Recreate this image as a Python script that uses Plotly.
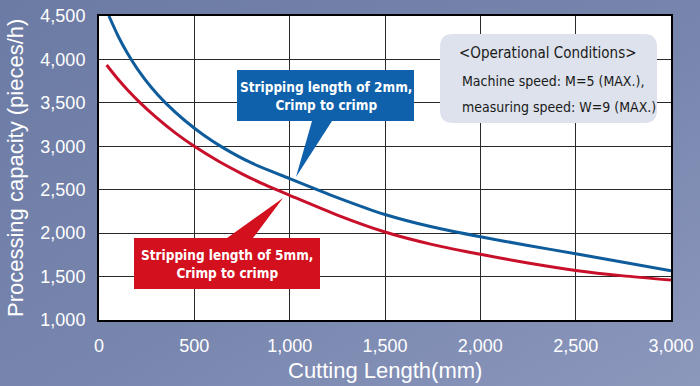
import plotly.graph_objects as go

# ---------------- data ----------------
blue_x = [52, 100, 150, 200, 275, 350, 450, 550, 650, 800, 1000, 1250, 1500, 1750, 2000, 2250, 2500, 2750, 3000]
blue_y = [4500, 4270, 4067, 3895, 3677, 3497, 3297, 3127, 2985, 2808, 2628, 2410, 2215, 2070, 1958, 1858, 1763, 1666, 1566]

red_x = [40, 100, 150, 215, 300, 400, 500, 625, 750, 875, 1000, 1250, 1500, 1750, 2000, 2250, 2500, 2750, 3000]
red_y = [3936, 3771, 3648, 3502, 3332, 3154, 2999, 2830, 2683, 2552, 2436, 2208, 2013, 1868, 1756, 1656, 1571, 1508, 1460]

x_ticks = [0, 500, 1000, 1500, 2000, 2500, 3000]
x_labels = ["0", "500", "1,000", "1,500", "2,000", "2,500", "3,000"]
y_ticks = [1000, 1500, 2000, 2500, 3000, 3500, 4000, 4500]
y_labels = ["1,000", "1,500", "2,000", "2,500", "3,000", "3,500", "4,000", "4,500"]

blue_label = "Stripping length of 2mm,<br>Crimp to crimp"
red_label = "Stripping length of 5mm,<br>Crimp to crimp"
cond_title = "&lt;Operational Conditions&gt;"
cond_lines = ["Machine speed: M=5 (MAX.),", "measuring speed: W=9 (MAX.)"]

x_title = "Cutting Length(mm)"
y_title = "Processing capacity (pieces/h)"

# ---------------- layout helpers (pixel -> paper) ----------------
W, H = 700, 386
PL, PR, PT, PB = 99, 671, 16, 320


def fx(x):
    return (x - PL) / (PR - PL)


def fy(y):
    return (PB - y) / (PB - PT)


def path(points):
    return "M " + " L ".join(f"{fx(x):.5f},{fy(y):.5f}" for x, y in points) + " Z"


def rounded_rect(x0, y0, x1, y1, r):
    p = [
        f"M {fx(x0 + r):.5f},{fy(y0):.5f}",
        f"L {fx(x1 - r):.5f},{fy(y0):.5f}",
        f"Q {fx(x1):.5f},{fy(y0):.5f} {fx(x1):.5f},{fy(y0 + r):.5f}",
        f"L {fx(x1):.5f},{fy(y1 - r):.5f}",
        f"Q {fx(x1):.5f},{fy(y1):.5f} {fx(x1 - r):.5f},{fy(y1):.5f}",
        f"L {fx(x0 + r):.5f},{fy(y1):.5f}",
        f"Q {fx(x0):.5f},{fy(y1):.5f} {fx(x0):.5f},{fy(y1 - r):.5f}",
        f"L {fx(x0):.5f},{fy(y0 + r):.5f}",
        f"Q {fx(x0):.5f},{fy(y0):.5f} {fx(x0 + r):.5f},{fy(y0):.5f}",
        "Z",
    ]
    return " ".join(p)


BLUE = "#0f5c9c"
RED = "#c8102a"
BOX_BLUE = "#1061ab"
BOX_RED = "#d2101e"
NARROW = "DejaVu Sans Condensed, Liberation Sans Narrow, sans-serif"
SANS = "Liberation Sans, Arial, sans-serif"

fig = go.Figure()
fig.add_trace(go.Scatter(x=blue_x, y=blue_y, mode="lines",
                         line=dict(color=BLUE, width=3, shape="spline", smoothing=0.6),
                         showlegend=False, hoverinfo="skip"))
fig.add_trace(go.Scatter(x=red_x, y=red_y, mode="lines",
                         line=dict(color=RED, width=3, shape="spline", smoothing=0.6),
                         showlegend=False, hoverinfo="skip"))

# background gradient as inline svg image
bg_svg = (
    "data:image/svg+xml;utf8,"
    "<svg xmlns='http://www.w3.org/2000/svg' width='700' height='386'>"
    "<defs><linearGradient id='g' x1='0' y1='0' x2='1' y2='1'>"
    "<stop offset='0' stop-color='%236c7ba4'/>"
    "<stop offset='0.55' stop-color='%237886ae'/>"
    "<stop offset='1' stop-color='%238c97bc'/>"
    "</linearGradient></defs>"
    "<rect width='700' height='386' fill='url(%23g)'/>"
    "</svg>"
)

shapes = [
    # white plotting area (drawn over the background image, under the grid)
    dict(type="rect", xref="paper", yref="paper", x0=0, y0=0, x1=1, y1=1,
         layer="below", fillcolor="white", line=dict(width=0)),
    # info box
    dict(type="path", xref="paper", yref="paper", layer="above",
         path=rounded_rect(440, 34, 657, 123, 13),
         fillcolor="#dde2ec", line=dict(width=0)),
    # blue callout
    dict(type="path", xref="paper", yref="paper", layer="above",
         path=path([(237, 70), (414, 70), (414, 121), (332, 121), (296, 177),
                    (312, 121), (237, 121)]),
         fillcolor=BOX_BLUE, line=dict(width=0)),
    # red callout
    dict(type="path", xref="paper", yref="paper", layer="above",
         path=path([(134, 238), (227, 238), (283, 198), (253, 238), (320, 238),
                    (320, 289), (134, 289)]),
         fillcolor=BOX_RED, line=dict(width=0)),
]

annotations = [
    dict(xref="paper", yref="paper", x=fx(325.5), y=fy(96), text=blue_label,
         showarrow=False, xanchor="center", yanchor="middle", align="center",
         font=dict(family=NARROW, size=13.5, color="white", weight="bold")),
    dict(xref="paper", yref="paper", x=fx(227), y=fy(264), text=red_label,
         showarrow=False, xanchor="center", yanchor="middle", align="center",
         font=dict(family=NARROW, size=13.5, color="white", weight="bold")),
    dict(xref="paper", yref="paper", x=fx(548), y=fy(53), text=cond_title,
         showarrow=False, xanchor="center", yanchor="middle",
         font=dict(family=NARROW, size=15, color="#1a1a1a")),
    dict(xref="paper", yref="paper", x=fx(460), y=fy(81), text=cond_lines[0],
         showarrow=False, xanchor="left", yanchor="middle",
         font=dict(family=NARROW, size=14, color="#1a1a1a")),
    dict(xref="paper", yref="paper", x=fx(460), y=fy(107), text=cond_lines[1],
         showarrow=False, xanchor="left", yanchor="middle",
         font=dict(family=NARROW, size=14, color="#1a1a1a")),
    dict(xref="paper", yref="paper", x=fx(385), y=fy(370), text=x_title,
         showarrow=False, xanchor="center", yanchor="middle",
         font=dict(family=SANS, size=22, color="white")),
    dict(xref="paper", yref="paper", x=fx(15), y=fy(168), text=y_title,
         showarrow=False, xanchor="center", yanchor="middle", textangle=-90,
         font=dict(family=SANS, size=22, color="white")),
]

fig.update_layout(
    width=W, height=H,
    margin=dict(l=PL, r=W - PR, t=PT, b=H - PB, pad=0),
    paper_bgcolor="#7886ab",
    plot_bgcolor="white",
    images=[dict(source=bg_svg, xref="paper", yref="paper",
                 x=-PL / (PR - PL), y=1 + PT / (PB - PT),
                 sizex=W / (PR - PL), sizey=H / (PB - PT),
                 xanchor="left", yanchor="top", sizing="stretch", layer="below")],
    shapes=shapes,
    annotations=annotations,
    xaxis=dict(range=[0, 3000], tickvals=x_ticks, ticktext=x_labels,
               showgrid=True, gridcolor="#2a2a2a", gridwidth=1.3,
               showline=True, linecolor="black", linewidth=2, mirror=True,
               ticks="", ticklabelstandoff=8, zeroline=False, automargin=False,
               tickfont=dict(family=SANS, size=18, color="white")),
    yaxis=dict(range=[1000, 4500], tickvals=y_ticks, ticktext=y_labels,
               showgrid=True, gridcolor="#2a2a2a", gridwidth=1.3,
               showline=True, linecolor="black", linewidth=2, mirror=True,
               ticks="", ticklabelstandoff=8, zeroline=False, automargin=False,
               tickfont=dict(family=SANS, size=18, color="white")),
)

fig.write_html("out.html",
               config={"displayModeBar": False},
               post_script="document.body.style.margin='0px';document.body.style.overflow='hidden';")
